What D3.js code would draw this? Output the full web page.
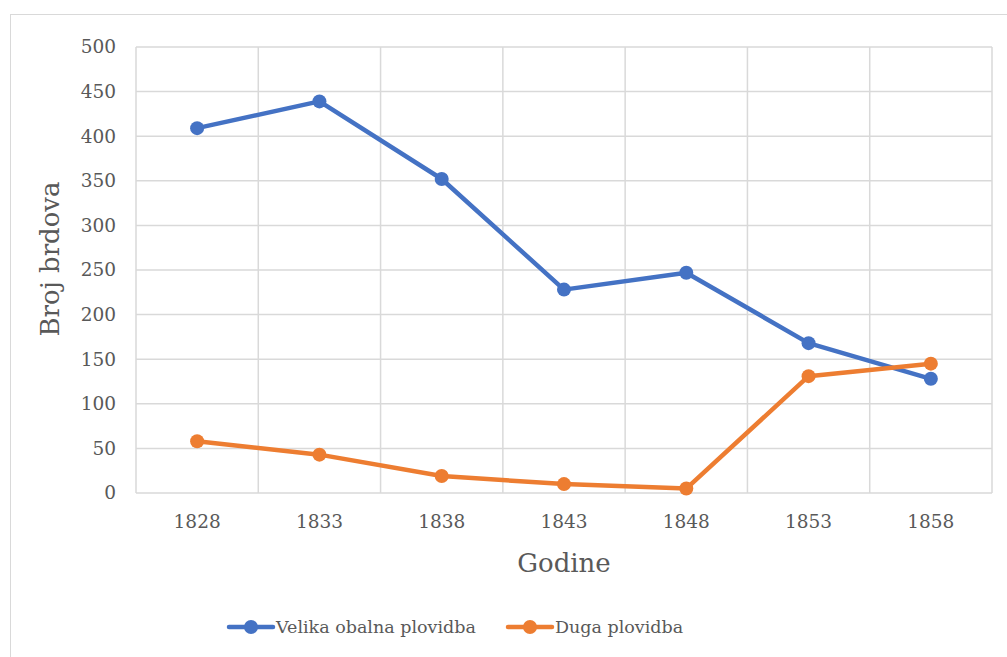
<!DOCTYPE html>
<html>
<head>
<meta charset="utf-8">
<script src="https://cdn.jsdelivr.net/npm/d3@7"></script>
<style>
  body { margin: 0; background: #fff; }
</style>
</head>
<body>
<div id="chart"></div>
<script>
// data
const years = ["1828", "1833", "1838", "1843", "1848", "1853", "1858"];
const velika = [409, 439, 352, 228, 247, 168, 128];
const duga = [58, 43, 19, 10, 5, 131, 145];
const yTicks = [0, 50, 100, 150, 200, 250, 300, 350, 400, 450, 500];
const seriesNames = ["Velika obalna plovidba", "Duga plovidba"];
const colors = ["#4472C4", "#ED7D31"];

const W = 1007, H = 657;
const plotLeft = 136, plotRight = 992, plotTop = 47, plotBottom = 493;
const serif = "'DejaVu Serif', serif";

const svg = d3.select("#chart").append("svg")
  .attr("width", W).attr("height", H);

// outer frame
svg.append("rect")
  .attr("x", 10.5).attr("y", 14.5)
  .attr("width", W).attr("height", H)
  .attr("fill", "#fff").attr("stroke", "#d9d9d9").attr("stroke-width", 1);

const x = d3.scaleBand().domain(years).range([plotLeft, plotRight]);
const y = d3.scaleLinear().domain([0, 500]).range([plotBottom, plotTop]);

// horizontal grid
svg.selectAll("line.hgrid").data(yTicks).enter().append("line")
  .attr("class", "hgrid")
  .attr("x1", plotLeft).attr("x2", plotRight)
  .attr("y1", d => y(d)).attr("y2", d => y(d))
  .attr("stroke", "#d9d9d9").attr("stroke-width", 1.5);

// vertical grid at band edges
const edges = years.map(d => x(d)).concat([plotRight]);
svg.selectAll("line.vgrid").data(edges).enter().append("line")
  .attr("class", "vgrid")
  .attr("x1", d => d).attr("x2", d => d)
  .attr("y1", plotTop).attr("y2", plotBottom)
  .attr("stroke", "#d9d9d9").attr("stroke-width", 1.5);

// y tick labels
svg.selectAll("text.ytick").data(yTicks).enter().append("text")
  .attr("class", "ytick")
  .attr("x", 116).attr("y", d => y(d))
  .attr("dy", "0.35em")
  .attr("text-anchor", "end")
  .attr("fill", "#595959")
  .attr("font-family", serif)
  .attr("font-size", 18.5)
  .text(d => d);

// x tick labels
svg.selectAll("text.xtick").data(years).enter().append("text")
  .attr("class", "xtick")
  .attr("x", d => x(d) + x.bandwidth() / 2).attr("y", 522)
  .attr("dy", "0.35em")
  .attr("text-anchor", "middle")
  .attr("fill", "#595959")
  .attr("font-family", serif)
  .attr("font-size", 18.5)
  .text(d => d);

// axis titles
svg.append("text")
  .attr("x", (plotLeft + plotRight) / 2).attr("y", 563)
  .attr("dy", "0.35em").attr("text-anchor", "middle")
  .attr("fill", "#595959")
  .attr("font-family", serif)
  .attr("font-size", 26)
  .text("Godine");

svg.append("text")
  .attr("transform", "translate(50,259) rotate(-90)")
  .attr("dy", "0.35em").attr("text-anchor", "middle")
  .attr("fill", "#595959")
  .attr("font-family", serif)
  .attr("font-size", 26)
  .text("Broj brdova");

// series
const line = d3.line()
  .x((d, i) => x(years[i]) + x.bandwidth() / 2)
  .y(d => y(d));

[velika, duga].forEach((vals, k) => {
  svg.append("path")
    .datum(vals)
    .attr("d", line)
    .attr("fill", "none")
    .attr("stroke", colors[k])
    .attr("stroke-width", 4.5)
    .attr("stroke-linejoin", "round")
    .attr("stroke-linecap", "round");
  svg.selectAll("circle.s" + k).data(vals).enter().append("circle")
    .attr("class", "s" + k)
    .attr("cx", (d, i) => x(years[i]) + x.bandwidth() / 2)
    .attr("cy", d => y(d))
    .attr("r", 7)
    .attr("fill", colors[k]);
});

// legend
const legendX = [229, 508];
const legendY = 627;
seriesNames.forEach((name, k) => {
  const g = svg.append("g").attr("transform", "translate(" + legendX[k] + "," + legendY + ")");
  g.append("line")
    .attr("x1", 0).attr("x2", 44).attr("y1", 0).attr("y2", 0)
    .attr("stroke", colors[k]).attr("stroke-width", 4.5)
    .attr("stroke-linecap", "round");
  g.append("circle").attr("cx", 22).attr("cy", 0).attr("r", 7).attr("fill", colors[k]);
  g.append("text")
    .attr("x", 47).attr("y", 0).attr("dy", "0.35em")
    .attr("fill", "#595959")
    .attr("font-family", serif)
    .attr("font-size", 17.5)
    .text(name);
});
</script>
</body>
</html>
